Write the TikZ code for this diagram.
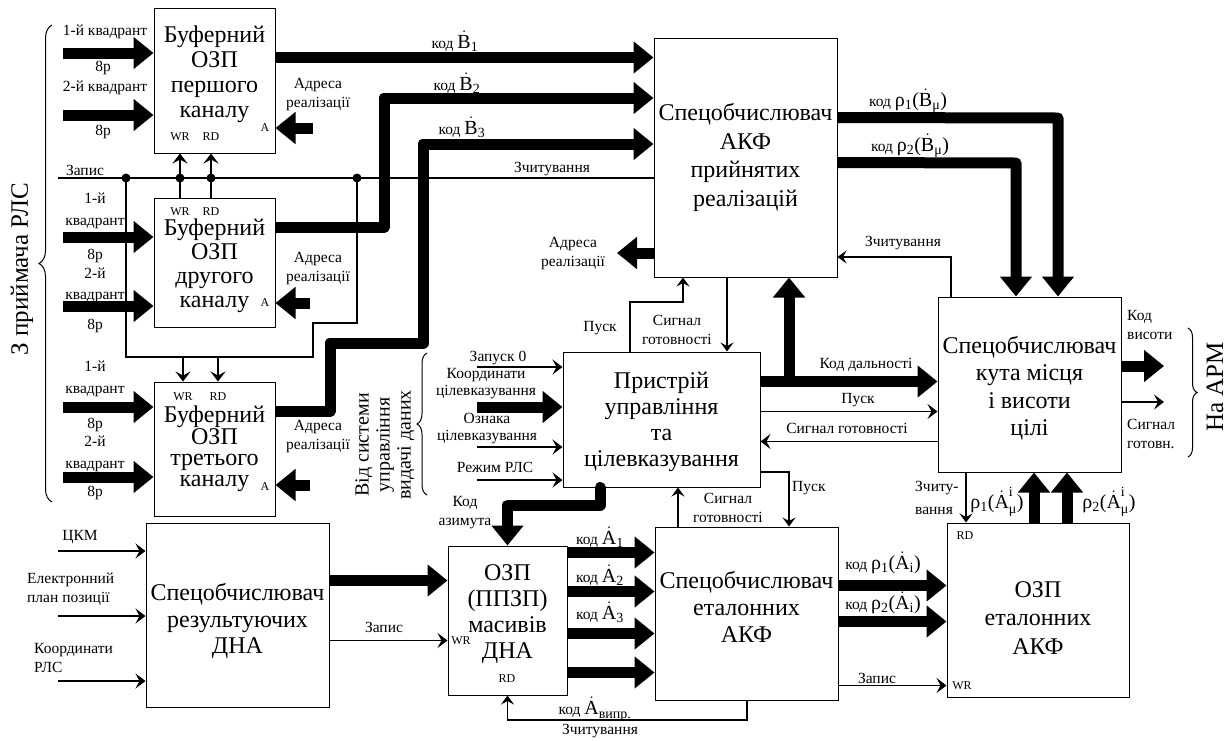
\documentclass[tikz,border=0pt]{standalone}
\usepackage{amsmath}
\usepackage{fontspec}
\setmainfont{Liberation Serif}
\usetikzlibrary{arrows.meta,calc,decorations.pathreplacing}
\newcommand{\fx}[1]{{\fontsize{20}{20}\selectfont #1}}
\newcommand{\dB}{\dot{\text{B}}}
\newcommand{\dA}{\dot{\text{A}}}

\begin{document}
\begin{tikzpicture}[x=1pt,y=-1pt,
  blk/.style={draw,line width=1pt},
  btxt/.style={align=center,font=\fontsize{24}{26}\selectfont},
  lbl/.style={align=center,font=\fontsize{15.5}{19}\selectfont},
  tiny/.style={font=\fontsize{12}{13}\selectfont},
  bus/.style={line width=11pt,line join=round},
  busarr/.style={bus,-{Triangle[length=20pt,width=31pt]}},
  sig/.style={line width=1.8pt,-{Stealth[length=10pt,width=15pt,inset=4pt]}},
  sigthin/.style={line width=1.1pt,-{Stealth[length=9pt,width=13pt,inset=3.5pt]}},
  wire/.style={line width=2.2pt},
  brc/.style={decorate,decoration={brace,amplitude=#1},line width=1pt}]
\tikzstyle{every node}+=[inner sep=0pt]
\useasboundingbox (0,0) rectangle (1232,740);

% blocks
\node[blk,minimum width=121pt,minimum height=145pt] (buf1) at (214.5,80.5) {};
\node[blk,minimum width=121pt,minimum height=129pt] (buf2) at (214.5,262.5) {};
\node[blk,minimum width=121pt,minimum height=134pt] (buf3) at (214.5,449) {};
\node[blk,minimum width=183pt,minimum height=239pt] (akf) at (745.5,157.5) {};
\node[blk,minimum width=197pt,minimum height=135pt] (ctrl) at (661.5,419.5) {};
\node[blk,minimum width=183pt,minimum height=175pt] (angle) at (1029.5,384.5) {};
\node[blk,minimum width=183pt,minimum height=184pt] (dna) at (237.5,615) {};
\node[blk,minimum width=119pt,minimum height=149pt] (ozpdna) at (507.5,620.5) {};
\node[blk,minimum width=183pt,minimum height=173pt] (etal) at (746.5,613.5) {};
\node[blk,minimum width=182pt,minimum height=174pt] (ozpet) at (1038,610) {};

\node[btxt,font=\fontsize{24}{25}\selectfont] (buf1t) at (214.5,74) {Буферний\\ОЗП\\першого\\каналу};
\node[btxt,font=\fontsize{24}{24}\selectfont] (buf2t) at (214.5,266) {Буферний\\ОЗП\\другого\\каналу};
\node[btxt,font=\fontsize{24}{21}\selectfont] (buf3t) at (214.5,449) {Буферний\\ОЗП\\третього\\каналу};
\node[btxt,font=\fontsize{24}{28.5}\selectfont] (akft) at (745.5,157.5) {Спецобчислювач\\АКФ\\прийнятих\\реалізацій};
\node[btxt] (ctrlt) at (661.5,422) {Пристрій\\управління\\та\\цілевказування};
\node[btxt,font=\fontsize{24}{27.5}\selectfont] (anglet) at (1029.5,388) {Спецобчислювач\\кута місця\\і висоти\\цілі};
\node[btxt,font=\fontsize{24}{26.5}\selectfont] (dnat) at (237.5,621) {Спецобчислювач\\результуючих\\ДНА};
\node[btxt] (ozpdnat) at (507.5,614) {ОЗП\\(ППЗП)\\масивів\\ДНА};
\node[btxt,font=\fontsize{24}{27}\selectfont] (etalt) at (746.5,607) {Спецобчислювач\\еталонних\\АКФ};
\node[btxt,font=\fontsize{24}{28.5}\selectfont] (ozpett) at (1038,618) {ОЗП\\еталонних\\АКФ};

% ports
\node[tiny] (wr1) at (180,137) {WR}; \node[tiny] (rd1) at (211,137) {RD}; \node[tiny] (ad1) at (265,128) {A};
\node[tiny] (wr2) at (180,212) {WR}; \node[tiny] (rd2) at (211,212) {RD}; \node[tiny] (ad2) at (265,303) {A};
\node[tiny] (wr3) at (183,397) {WR}; \node[tiny] (rd3) at (218,397) {RD}; \node[tiny] (ad3) at (265,487) {A};
\node[tiny] (wr4) at (461,641) {WR}; \node[tiny] (rd4) at (507,679) {RD};
\node[tiny] (rd5) at (965,536) {RD}; \node[tiny] (wr5) at (962,686) {WR};

% inputs of the buffers
\coordinate (q11) at (63,53); \coordinate (q12) at (63,115);
\coordinate (q21) at (63,237); \coordinate (q22) at (63,306);
\coordinate (q31) at (63,407); \coordinate (q32) at (63,477);
\draw[busarr] (q11) -- (q11 -| buf1.west);
\draw[busarr] (q12) -- (q12 -| buf1.west);
\draw[busarr] (q21) -- (q21 -| buf2.west);
\draw[busarr] (q22) -- (q22 -| buf2.west);
\draw[busarr] (q31) -- (q31 -| buf3.west);
\draw[busarr] (q32) -- (q32 -| buf3.west);
\node[lbl] (l11) at (105,32) {1-й квадрант}; \node[lbl] (l12) at (103,68) {8р};
\node[lbl] (l13) at (105,88) {2-й квадрант}; \node[lbl] (l14) at (103,132) {8р};
\node[lbl] (l21) at (95,211) {1-й\\[3pt]квадрант}; \node[lbl] (l22) at (95,256) {8р};
\node[lbl] (l23) at (95,285) {2-й\\[2pt]квадрант}; \node[lbl] (l24) at (95,326) {8р};
\node[lbl] (l31) at (95,379) {1-й\\[3pt]квадрант}; \node[lbl] (l32) at (95,425) {8р};
\node[lbl] (l33) at (95,454) {2-й\\[3pt]квадрант}; \node[lbl] (l34) at (95,493) {8р};
\draw[brc=13] (52,502) -- (52,25);
\node[rotate=90,font=\fontsize{25}{25}\selectfont] (rls) at (22,269) {З приймача РЛС};

% buffer outputs
\coordinate (b1) at ($(buf1.north east)+(0,50)$);
\coordinate (b2) at ($(buf2.north east)+(0,30)$);
\coordinate (b2k) at (384,98);
\coordinate (b3) at ($(buf3.north east)+(0,30)$);
\coordinate (b3a) at (330,343);
\coordinate (b3k) at (423,144);
\draw[busarr] (b1) -- (b1 -| akf.west);
\draw[busarr] (b2) -| (b2k) -- (b2k -| akf.west);
\draw[busarr] (b3) -| (b3a) -| (b3k) -- (b3k -| akf.west);
\node[lbl] (kb1) at (455,41) {код \fx{$\dB_{\text{1}}$}};
\node[lbl] (kb2) at (457,83) {код \fx{$\dB_{\text{2}}$}};
\node[lbl] (kb3) at (462,127) {код \fx{$\dB_{\text{3}}$}};

% address inputs
\coordinate (a1) at (313,128); \coordinate (a2) at (310,303); \coordinate (a3) at (310,485);
\draw[busarr] (a1) -- (a1 -| buf1.east);
\draw[busarr] (a2) -- (a2 -| buf2.east);
\draw[busarr] (a3) -- (a3 -| buf3.east);
\node[lbl] (la1) at (318,95) {Адреса\\реалізації};
\node[lbl] (la2) at (318,269) {Адреса\\реалізації};
\node[lbl] (la3) at (318,437) {Адреса\\реалізації};

% write / read lines
\coordinate (zp) at (58,178);
\coordinate (j1) at (126,178); \coordinate (j2) at (180,178);
\coordinate (j3) at (211,178); \coordinate (j4) at (357,178);
\coordinate (wb) at (313,357); \coordinate (rb) at (357,323);
\draw[wire] (zp) -- (zp -| akf.west);
\draw[wire] (j1) |- (wb) |- (rb) -- (j4);
\foreach \j in {j1,j2,j3,j4} \fill (\j) circle (4.5);
\draw[sig,{Stealth[length=10pt,width=15pt,inset=4pt]}-] (buf1.south -| j2) -- (buf2.north -| j2);
\draw[sig,{Stealth[length=10pt,width=15pt,inset=4pt]}-] (buf1.south -| j3) -- (buf2.north -| j3);
\coordinate (w3) at (183,357); \coordinate (r3) at (218,357);
\draw[sig] (w3) -- (w3 |- buf3.north);
\draw[sig] (r3) -- (r3 |- buf3.north);
\node[lbl] (lzp) at (85,170) {Запис};
\node[lbl] (lzc) at (552,169) {Зчитування};

% akf address out
\coordinate (ak) at (617,253);
\draw[busarr] (ak -| akf.west) -- (ak);
\node[lbl] (lak) at (573,254) {Адреса\\реалізації};

% control unit inputs
\coordinate (u1) at (477,367); \coordinate (u2) at (477,407);
\coordinate (u3) at (477,447); \coordinate (u4) at (477,480);
\draw[sig] (u1) -- (u1 -| ctrl.west);
\draw[busarr] (u2) -- (u2 -| ctrl.west);
\draw[sig] (u3) -- (u3 -| ctrl.west);
\draw[sig] (u4) -- (u4 -| ctrl.west);
\node[lbl] (lu1) at (498,358) {Запуск 0};
\node[lbl,font=\fontsize{15.5}{17}\selectfont] (lu2) at (486,384) {Координати\\цілевказування};
\node[lbl,font=\fontsize{15.5}{17}\selectfont] (lu3) at (487,429) {Ознака\\цілевказування};
\node[lbl] (lu4) at (495,467) {Режим РЛС};
\draw[brc=10] (427,495) -- (427,353);
\node[rotate=90,align=center,font=\fontsize{20}{21}\selectfont] (src) at (385,445) {Від системи\\управління\\видачі даних};

% control unit and akf
\coordinate (pk) at (630,302); \coordinate (pk2) at (683,302);
\coordinate (sg) at (727,300);
\draw[sigthin] (ctrl.north -| pk) -- (pk) -- (pk2) -- (pk2 |- akf.south);
\draw[sigthin] (akf.south -| sg) -- (sg |- ctrl.north);
\node[lbl] (lpk) at (600,328) {Пуск};
\node[lbl] (lsg) at (677,330) {Сигнал\\готовності};

% range code
\coordinate (kd) at ($(ctrl.north east)+(0,30)$);
\coordinate (kdb) at (789,382);
\draw[busarr] (kd) -- (kd -| angle.west);
\draw[busarr] (kdb) -- (kdb |- akf.south);
\node[lbl] (lkd) at (866,365) {Код дальності};
\coordinate (p1) at ($(ctrl.north east)+(0,60)$);
\draw[sig] (p1) -- (p1 -| angle.west);
\node[lbl] (lp1) at (858,400) {Пуск};
\coordinate (r1) at ($(angle.north west)+(0,145)$);
\draw[sig] (r1) -- (r1 -| ctrl.east);
\node[lbl] (lr1) at (847,428) {Сигнал готовності};

% control unit and reference calculator
\coordinate (pe) at (789,472);
\draw[sigthin] (pe -| ctrl.east) -- (pe) -- (pe |- etal.north);
\node[lbl,anchor=west] (lpe) at (792,488) {Пуск};
\coordinate (re) at (678,500);
\draw[sigthin] (etal.north -| re) -- (re |- ctrl.south);
\node[lbl] (lre) at (728,508) {Сигнал\\готовності};

% akf to angle calculator
\coordinate (p1s) at ($(akf.north east)+(0,80)$); \coordinate (p1k) at (1058,118);
\coordinate (p2s) at ($(akf.north east)+(0,125)$); \coordinate (p2k) at (1016,163);
\draw[busarr] (p1s) -- (p1k) -- (p1k |- angle.north);
\draw[busarr] (p2s) -- (p2k) -- (p2k |- angle.north);
\node[lbl] (lp1s) at (908,101) {код \fx{ρ$_{\text{1}}$($\dB_{\text{μ}}$)}};
\node[lbl] (lp2s) at (910,146) {код \fx{ρ$_{\text{2}}$($\dB_{\text{μ}}$)}};
\coordinate (zk) at (951,257);
\draw[sigthin] (angle.north -| zk) -- (zk) -- (zk -| akf.east);
\node[lbl] (lzk) at (903,243) {Зчитування};

% angle calculator outputs
\coordinate (h1) at (1164,366); \coordinate (h2) at (1164,402);
\draw[busarr] (h1 -| angle.east) -- (h1);
\draw[sig] (h2 -| angle.east) -- (h2);
\node[lbl,anchor=west,align=left] (lh1) at (1127,325) {Код\\висоти};
\node[lbl,anchor=west,align=left] (lh2) at (1127,434) {Сигнал\\готовн.};
\draw[brc=9] (1188,328) -- (1188,457);
\node[rotate=90,font=\fontsize{25}{25}\selectfont] (arm) at (1215,387) {На АРМ};

% angle calculator and reference memory
\coordinate (zr) at (966,500); \coordinate (m1) at (1034,500); \coordinate (m2) at (1067,500);
\draw[sigthin] (angle.south -| zr) -- (zr |- ozpet.north);
\draw[busarr] (ozpet.north -| m1) -- (m1 |- angle.south);
\draw[busarr] (ozpet.north -| m2) -- (m2 |- angle.south);
\node[lbl,anchor=west,align=left,font=\fontsize{15.5}{23}\selectfont] (lzr) at (915,498) {Зчиту-\\вання};
\node[lbl] (lm1) at (997,502) {\fx{ρ$_{\text{1}}$($\dA^{\text{i}}_{\text{μ}}$)}};
\node[lbl] (lm2) at (1109,502) {\fx{ρ$_{\text{2}}$($\dA^{\text{i}}_{\text{μ}}$)}};

% pattern inputs
\coordinate (c1) at (58,551); \coordinate (c2) at (58,616); \coordinate (c3) at (58,681);
\draw[sig] (c1) -- (c1 -| dna.west);
\draw[sig] (c2) -- (c2 -| dna.west);
\draw[sig] (c3) -- (c3 -| dna.west);
\node[lbl] (lc1) at (80,537) {ЦКМ};
\node[lbl,anchor=west,align=left] (lc2) at (27,589) {Електронний\\план позиції};
\node[lbl,anchor=west,align=left] (lc3) at (34,658) {Координати\\РЛС};

% pattern calculator to pattern memory
\coordinate (dn1) at ($(dna.north east)+(0,58)$);
\coordinate (dn2) at ($(dna.north east)+(0,118)$);
\draw[busarr] (dn1) -- (dn1 -| ozpdna.west);
\draw[sig] (dn2) -- (dn2 -| ozpdna.west);
\node[lbl] (ldn2) at (384,627) {Запис};

% azimuth code
\coordinate (az) at (600,505);
\draw[busarr,line cap=round] (ctrl.south -| az) -- (az) -| (ozpdna.north);
\node[lbl] (laz) at (465,513) {Код\\азимута};

% pattern memory to reference calculator
\coordinate (e1) at ($(ozpdna.north east)+(0,7)$);
\coordinate (e2) at ($(ozpdna.north east)+(0,46)$);
\coordinate (e3) at ($(ozpdna.north east)+(0,88)$);
\coordinate (e4) at ($(ozpdna.north east)+(0,127)$);
\draw[busarr] (e1) -- (e1 -| etal.west);
\draw[busarr] (e2) -- (e2 -| etal.west);
\draw[busarr] (e3) -- (e3 -| etal.west);
\draw[busarr] (e4) -- (e4 -| etal.west);
\node[lbl] (le1) at (600,537) {код \fx{$\dA_{\text{1}}$}};
\node[lbl] (le2) at (600,575) {код \fx{$\dA_{\text{2}}$}};
\node[lbl] (le3) at (600,612) {код \fx{$\dA_{\text{3}}$}};
\node[lbl] (le4) at (595,709) {код \fx{$\dA_{\text{випр.}}$}};
\coordinate (rl) at (747,720);
\draw[sigthin] (etal.south -| rl) -- (rl) -| (ozpdna.south);
\node[lbl] (lrl) at (600,731) {Зчитування};

% reference calculator to reference memory
\coordinate (k1) at ($(etal.north east)+(0,59)$);
\coordinate (k2) at ($(etal.north east)+(0,95)$);
\coordinate (k3) at ($(etal.north east)+(0,159)$);
\draw[busarr] (k1) -- (k1 -| ozpet.west);
\draw[busarr] (k2) -- (k2 -| ozpet.west);
\draw[sig] (k3) -- (k3 -| ozpet.west);
\node[lbl] (lk1) at (883,563) {код \fx{ρ$_{\text{1}}$($\dA_{\text{i}}$)}};
\node[lbl] (lk2) at (883,603) {код \fx{ρ$_{\text{2}}$($\dA_{\text{i}}$)}};
\node[lbl] (lk3) at (877,678) {Запис};
\end{tikzpicture}
\end{document}
